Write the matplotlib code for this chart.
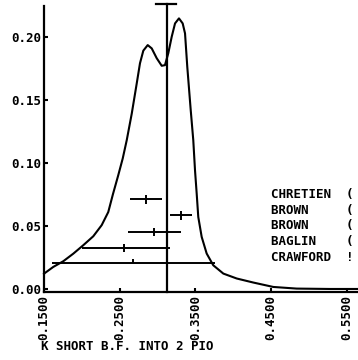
import numpy as np
import matplotlib
matplotlib.use("Agg")
import matplotlib.pyplot as plt

# fitted curve
curve_x = [0.150, 0.1513, 0.1623, 0.1755, 0.1887, 0.2019, 0.2151, 0.2262, 0.2349,
           0.2410, 0.2480, 0.2540, 0.2593, 0.2659, 0.2725, 0.2768, 0.2812, 0.2870,
           0.2923, 0.2989, 0.3055, 0.3098, 0.3142, 0.3187, 0.3231, 0.3283, 0.3332,
           0.3363, 0.3393, 0.3438, 0.3472, 0.3495, 0.3517, 0.3538, 0.3583, 0.3649,
           0.3736, 0.3869, 0.4046, 0.4265, 0.4529, 0.4838, 0.5278, 0.565]
curve_y = [0.0120, 0.0127, 0.0175, 0.0220, 0.0280, 0.0347, 0.0418, 0.0506, 0.0610,
           0.0750, 0.0900, 0.1035, 0.1180, 0.1390, 0.1630, 0.1790, 0.1890, 0.1934,
           0.1908, 0.1830, 0.1770, 0.1775, 0.1870, 0.2000, 0.2106, 0.2146, 0.2106,
           0.2027, 0.1760, 0.1420, 0.1180, 0.0940, 0.0757, 0.0571, 0.0413, 0.0281,
           0.0188, 0.0122, 0.0083, 0.0051, 0.0016, 0.0003, 0.0, 0.0]

# measurements (center, low, high, height)
meas_x = [0.2847, 0.3306, 0.2957, 0.256, 0.267]
meas_lo = [0.2636, 0.3164, 0.2614, 0.200, 0.160]
meas_hi = [0.3063, 0.3451, 0.3310, 0.3164, 0.376]
meas_y = [0.071, 0.0585, 0.0452, 0.0325, 0.0204]
meas_ey_lo = [0.0036, 0.0036, 0.003, 0.003, 0.0]
meas_ey_hi = [0.0036, 0.0036, 0.003, 0.003, 0.003]

authors = ["CHRETIEN  (", "BROWN     (", "BROWN     (", "BAGLIN    (", "CRAWFORD  !"]
author_y = [0.0752, 0.0625, 0.050, 0.0373, 0.0246]

# vertical marker with top cap
mark_x = 0.312
mark_top = 0.2256
cap_x = [0.2985, 0.3249]

xticks = [0.15, 0.25, 0.35, 0.45, 0.55]
xtick_labels = ["0.1500", "0.2500", "0.3500", "0.4500", "0.5500"]
yticks = [0.00, 0.05, 0.10, 0.15, 0.20]
ytick_labels = ["0.00", "0.05", "0.10", "0.15", "0.20"]

font = dict(family="DejaVu Sans Mono", weight="bold", size=9)

fig = plt.figure(figsize=(3.58, 3.60), dpi=100)
ax = fig.add_axes([0.1229, 0.1889, 0.8771, 0.7944])
ax.set_xlim(0.15, 0.5648)
ax.set_ylim(-0.0024, 0.2244)

ax.plot(curve_x, curve_y, color="black", lw=1.5, clip_on=False,
        solid_joinstyle="round")

ax.errorbar(meas_x, meas_y,
            xerr=[np.subtract(meas_x, meas_lo), np.subtract(meas_hi, meas_x)],
            yerr=[meas_ey_lo, meas_ey_hi],
            fmt="none", ecolor="black", elinewidth=1.4, capsize=0)

ax.plot([mark_x, mark_x], [-0.0024, mark_top], color="black", lw=1.6, clip_on=False)
ax.plot(cap_x, [mark_top, mark_top], color="black", lw=1.6, clip_on=False)

for name, yy in zip(authors, author_y):
    ax.text(0.4495, yy, name, va="center", ha="left", clip_on=False, **font)

for s in ["top", "right"]:
    ax.spines[s].set_visible(False)
for s in ["left", "bottom"]:
    ax.spines[s].set_linewidth(1.6)

ax.set_xticks(xticks)
ax.set_xticklabels(xtick_labels, rotation=90, **font)
ax.set_yticks(yticks)
ax.set_yticklabels(ytick_labels, **font)
ax.tick_params(direction="in", length=3, width=1.5, pad=2)

fig.text(0.115, 0.02, "K SHORT B.F. INTO 2 PIO", ha="left", va="bottom", **font)

fig.savefig("out.png", dpi=100)
